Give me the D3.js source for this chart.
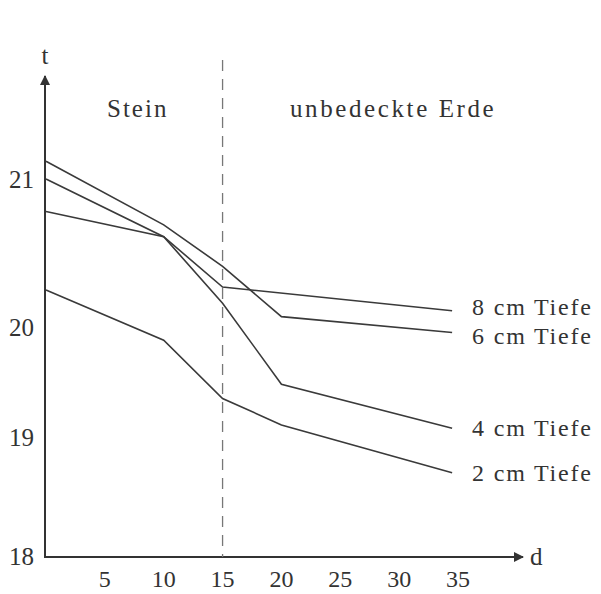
<!DOCTYPE html>
<html>
<head>
<meta charset="utf-8">
<script src="https://cdn.jsdelivr.net/npm/d3@7"></script>
<style>
  body { margin: 0; background: #fff; }
  text { font-family: "Liberation Serif", "DejaVu Serif", serif; fill: #333; }
</style>
</head>
<body>
<svg id="chart"></svg>
<script>
// distance values (d) where the curves bend
var depthD = [0, 10, 15, 20, 34.5];
var series = ["8 cm Tiefe", "6 cm Tiefe", "4 cm Tiefe", "2 cm Tiefe"];
// temperatures t, null = no bend there
var t8 = [20.78, 20.61, 20.27, null, 20.11];
var t6 = [21.12, 20.69, 20.41, 20.07, 19.95];
var t4 = [21.00, 20.61, 20.16, 19.48, 19.08];
var t2 = [20.25, 19.88, 19.35, 19.11, 18.70];
var xTicks = [5, 10, 15, 20, 25, 30, 35];
var yTicks = [18, 19, 20, 21];
var regions = ["Stein", "unbedeckte Erde"];
var boundary = 15;

var width = 601, height = 594;

var svg = d3.select("#chart").attr("width", width).attr("height", height);

// x axis scale
var xScale = d3.scaleLinear().domain([0, 35]).range([46, 458]);
// the printed tick labels are not evenly spaced, so use a piecewise scale
var yScale = d3.scaleLinear().domain(yTicks).range([556, 437, 327, 179]);

var axisY = 557, axisX = 45;

// arrow heads
var defs = svg.append("defs");
defs.append("marker")
  .attr("id", "arrow")
  .attr("viewBox", "0 0 10 10")
  .attr("refX", 9).attr("refY", 5)
  .attr("markerWidth", 6).attr("markerHeight", 5)
  .attr("markerUnits", "strokeWidth")
  .attr("orient", "auto")
  .append("path")
  .attr("d", "M0,0 L10,5 L0,10 Z")
  .attr("fill", "#333");

// axes
svg.append("line")
  .attr("x1", axisX).attr("y1", axisY)
  .attr("x2", axisX).attr("y2", 76)
  .attr("stroke", "#333").attr("stroke-width", 2)
  .attr("marker-end", "url(#arrow)");

svg.append("line")
  .attr("x1", axisX - 1).attr("y1", axisY)
  .attr("x2", 523).attr("y2", axisY)
  .attr("stroke", "#333").attr("stroke-width", 2)
  .attr("marker-end", "url(#arrow)");

svg.append("text").text("t")
  .attr("x", axisX).attr("y", 64)
  .attr("text-anchor", "middle").attr("font-size", 25);

svg.append("text").text("d")
  .attr("x", 530).attr("y", 565)
  .attr("font-size", 25);

// tick labels
svg.selectAll(".xlab").data(xTicks).enter().append("text")
  .attr("class", "xlab")
  .attr("x", d => xScale(d)).attr("y", 587)
  .attr("text-anchor", "middle").attr("font-size", 24)
  .text(d => d);

svg.selectAll(".ylab").data(yTicks).enter().append("text")
  .attr("class", "ylab")
  .attr("x", 34).attr("y", d => yScale(d)).attr("dy", "0.35em")
  .attr("text-anchor", "end").attr("font-size", 25)
  .text(d => d);

// boundary between stone and uncovered soil
svg.append("line")
  .attr("x1", xScale(boundary)).attr("x2", xScale(boundary))
  .attr("y1", 60).attr("y2", axisY)
  .attr("stroke", "#777").attr("stroke-width", 1.3)
  .attr("stroke-dasharray", "11,8");

svg.append("text").text(regions[0])
  .attr("x", 107).attr("y", 117)
  .attr("font-size", 25).attr("letter-spacing", 2);

svg.append("text").text(regions[1])
  .attr("x", 290).attr("y", 117)
  .attr("font-size", 25).attr("letter-spacing", 2.6);

// curves
var line = d3.line()
  .defined(d => d.t != null)
  .x(d => xScale(d.d))
  .y(d => yScale(d.t));

var curves = [t8, t6, t4, t2].map((vals, i) => {
  return {name: series[i], points: depthD.map((d, j) => ({d: d, t: vals[j]})).filter(p => p.t != null)};
});

// label positions at line ends, pushed apart where they would collide
var minGap = 29;
curves.forEach(c => {
  var last = c.points[c.points.length - 1];
  c.lx = xScale(last.d) + 20;
  c.ly = yScale(last.t);
});
for (var i = 1; i < curves.length; i++) {
  var gap = curves[i].ly - curves[i - 1].ly;
  if (gap < minGap) {
    var shift = (minGap - gap) / 2;
    curves[i - 1].ly -= shift;
    curves[i].ly += shift;
  }
}

svg.selectAll(".curve").data(curves).enter().append("path")
  .attr("class", "curve")
  .attr("fill", "none")
  .attr("stroke", "#3a3a3a")
  .attr("stroke-width", 1.6)
  .attr("d", d => line(d.points));

svg.selectAll(".clab").data(curves).enter().append("text")
  .attr("class", "clab")
  .attr("x", d => d.lx)
  .attr("y", d => d.ly)
  .attr("dy", "0.33em")
  .attr("font-size", 24).attr("letter-spacing", 1.8)
  .text(d => d.name);
</script>
</body>
</html>
